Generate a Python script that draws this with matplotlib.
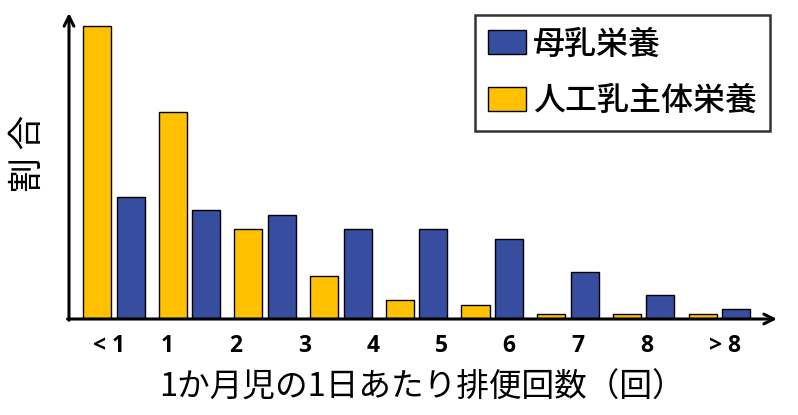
import matplotlib
matplotlib.use("Agg")
import matplotlib.pyplot as plt
from matplotlib.patches import Patch
import numpy as np

plt.rcParams['font.family'] = ['Noto Sans CJK JP', 'DejaVu Sans']

categories = ["< 1", "1", "2", "3", "4", "5", "6", "7", "8", "> 8"]
# label positions (in pair units) as laid out in the reference
label_pos = [-0.06, 0.71, 1.62, 2.52, 3.43, 4.33, 5.22, 6.14, 7.05, 8.08]
formula = [43.1, 30.5, 13.2, 6.3, 2.75, 2.0, 0.7, 0.7, 0.7]   # 人工乳主体栄養
breast = [17.9, 16.0, 15.25, 13.2, 13.2, 11.7, 6.9, 3.5, 1.4]  # 母乳栄養
series_names = ["母乳栄養", "人工乳主体栄養"]

BLUE = "#374EA0"
YELLOW = "#FFC000"

W, H = 798, 415
fig = plt.figure(figsize=(W / 100, H / 100), dpi=100)
x0, x1, yb, yt = 69, 777, 319, 13
ax = fig.add_axes([x0 / W, 1 - yb / H, (x1 - x0) / W, (yb - yt) / H])

pair_px = 75.7
c0 = 113.5
ax.set_xlim((x0 - c0) / pair_px, (x1 - c0) / pair_px)
ax.set_ylim(0, (yb - yt) / 6.8)

x = np.arange(len(formula))
bw = 0.37
ax.bar(x - 0.218, formula, width=bw, color=YELLOW, edgecolor="black", linewidth=1.0, zorder=2)
ax.bar(x + 0.225, breast, width=bw, color=BLUE, edgecolor="black", linewidth=1.0, zorder=2)

for s in ax.spines.values():
    s.set_visible(False)
ax.set_yticks([])
ax.set_xticks(label_pos)
ax.set_xticklabels(categories, fontsize=16.5, fontweight="bold", family=["Open Sans", "DejaVu Sans"])
ax.tick_params(axis="x", length=0, pad=11)

# axes arrows
ax.annotate("", xy=(0, 1.0), xytext=(0, -0.004), xycoords="axes fraction",
            arrowprops=dict(arrowstyle="->,head_length=0.7,head_width=0.35", lw=2.2, color="black",
                            shrinkA=0, shrinkB=0), annotation_clip=False)
ax.annotate("", xy=(1.0, 0), xytext=(-0.002, 0), xycoords="axes fraction",
            arrowprops=dict(arrowstyle="->,head_length=0.7,head_width=0.35", lw=2.2, color="black",
                            shrinkA=0, shrinkB=0), annotation_clip=False)

fig.text(28 / W, 1 - 153 / H, "割 合", rotation=90, fontsize=25, ha="center", va="center")
fig.text(422 / W, 1 - 388 / H, "1か月児の1日あたり排便回数（回）", fontsize=23.5,
         ha="center", va="center")

handles = [Patch(facecolor=BLUE, edgecolor="black", linewidth=1.0),
           Patch(facecolor=YELLOW, edgecolor="black", linewidth=1.0)]
leg = fig.legend(handles, series_names, loc="upper left",
                 bbox_to_anchor=(475 / W, 1 - 15 / H), borderaxespad=0,
                 fancybox=False, frameon=True, edgecolor="black",
                 prop=dict(family="Noto Sans CJK JP", size=23, weight="medium"),
                 handlelength=1.19, handleheight=0.78, handletextpad=0.2,
                 labelspacing=0.78, borderpad=0.42)
leg.get_frame().set_linewidth(1.8)

fig.savefig("out.png", dpi=100)
